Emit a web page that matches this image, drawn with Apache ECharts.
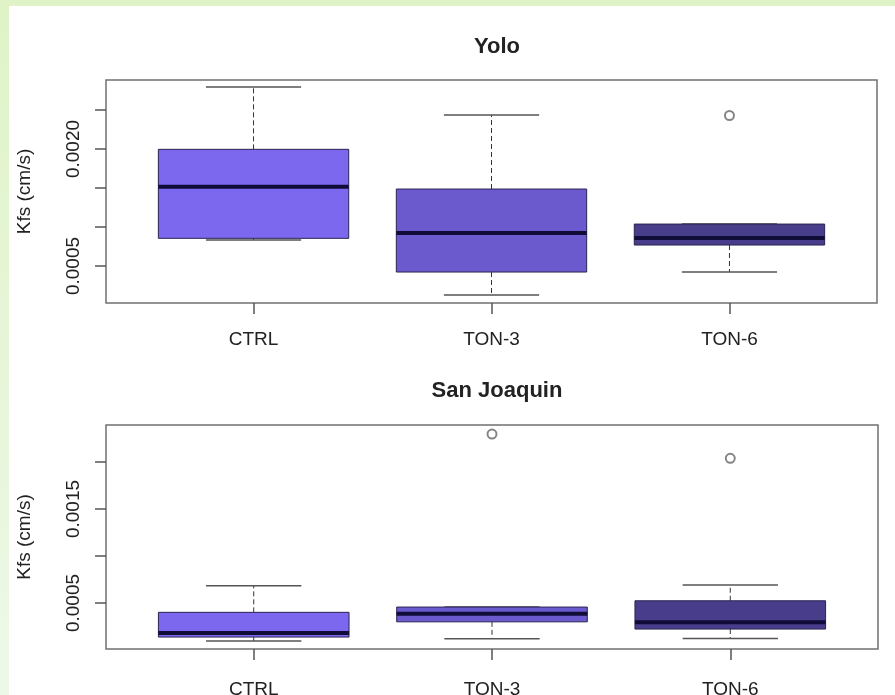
<!DOCTYPE html>
<html>
<head>
<meta charset="utf-8">
<script src="https://cdn.jsdelivr.net/npm/echarts@6/dist/echarts.min.js"></script>
<style>
html,body{margin:0;padding:0;background:#fff;}
#chart{width:895px;height:695px;}
</style>
</head>
<body>
<div id="chart"></div>
<script>
// ---- data ----
const categories = ['CTRL', 'TON-3', 'TON-6'];
// [lower whisker, Q1, median, Q3, upper whisker]
const yoloStats = [
  [0.000833, 0.000855, 0.001517, 0.001996, 0.002795],
  [0.000128, 0.000423, 0.000923, 0.001487, 0.002436],
  [0.000423, 0.000769, 0.000859, 0.001038, 0.001038]
];
const yoloOutliers = [[3, 0.00243]];
const sjStats = [
  [0.000096, 0.000138, 0.000181, 0.000401, 0.000684],
  [0.000120, 0.000300, 0.000386, 0.000457, 0.000457],
  [0.000124, 0.000223, 0.000295, 0.000524, 0.000691]
];
const sjOutliers = [[2, 0.002298], [3, 0.00204]];
const yoloTicks = [0.0005, 0.0010, 0.0015, 0.0020, 0.0025];
const yoloTickLabels = [0.0005, 0.0020];
const sjTicks = [0.0005, 0.0010, 0.0015, 0.0020];
const sjTickLabels = [0.0005, 0.0015];
const yoloRange = [0.000026, 0.002885];
const sjRange = [0.000011, 0.002394];

// ---- styles ----
const FONT = '"Liberation Sans", Arial, sans-serif';
const fills = ['#7b68ee', '#6a5acd', '#483d8b'];
const frameColor = '#707070';
const textColor = '#222222';

function boxItem(params, api) {
  const x = api.value(0);
  const lo = api.value(1), q1 = api.value(2), med = api.value(3), q3 = api.value(4), hi = api.value(5);
  const w = api.size([0.8, 0])[0];
  const pLo = api.coord([x, lo]);
  const pQ1 = api.coord([x, q1]);
  const pMed = api.coord([x, med]);
  const pQ3 = api.coord([x, q3]);
  const pHi = api.coord([x, hi]);
  const cx = pMed[0];
  const children = [];
  const dash = {stroke: '#333', lineWidth: 1, lineDash: [5, 3]};
  const cap = {stroke: '#555', lineWidth: 1.5};
  children.push({type: 'line', shape: {x1: cx, y1: pQ3[1], x2: cx, y2: pHi[1]}, style: dash});
  children.push({type: 'line', shape: {x1: cx, y1: pQ1[1], x2: cx, y2: pLo[1]}, style: dash});
  children.push({type: 'line', shape: {x1: cx - w / 4, y1: pHi[1], x2: cx + w / 4, y2: pHi[1]}, style: cap});
  children.push({type: 'line', shape: {x1: cx - w / 4, y1: pLo[1], x2: cx + w / 4, y2: pLo[1]}, style: cap});
  children.push({type: 'rect', shape: {x: cx - w / 2, y: pQ3[1], width: w, height: pQ1[1] - pQ3[1]},
    style: {fill: fills[params.dataIndex], stroke: '#2a2450', lineWidth: 1}});
  children.push({type: 'line', shape: {x1: cx - w / 2, y1: pMed[1], x2: cx + w / 2, y2: pMed[1]},
    style: {stroke: '#100c38', lineWidth: 4}});
  return {type: 'group', children: children};
}

function xAxisDef(gridIndex, margin) {
  return {
    type: 'value', gridIndex: gridIndex, min: 0.38, max: 3.62,
    splitLine: {show: false}, axisLine: {show: false},
    axisTick: {show: true, customValues: [1, 2, 3], length: 11, lineStyle: {color: '#555', width: 1.5}},
    axisLabel: {show: true, customValues: [1, 2, 3], margin: margin,
      formatter: v => categories[Math.round(v) - 1] || '',
      fontFamily: FONT, fontSize: 19, color: textColor}
  };
}
function yAxisDef(gridIndex, range, ticks, labels) {
  return {
    type: 'value', gridIndex: gridIndex, min: range[0], max: range[1],
    splitLine: {show: false}, axisLine: {show: false},
    axisTick: {show: true, customValues: ticks, length: 11, lineStyle: {color: '#555', width: 1.5}},
    axisLabel: {show: true, customValues: labels, rotate: 90, margin: 23,
      formatter: v => v.toFixed(4), fontFamily: FONT, fontSize: 19, color: textColor},
    name: 'Kfs (cm/s)', nameLocation: 'middle', nameRotate: 90, nameGap: 72,
    nameTextStyle: {fontFamily: FONT, fontSize: 19, color: textColor}
  };
}
function toData(stats) { return stats.map((s, i) => [i + 1].concat(s)); }

const chart = echarts.init(document.getElementById('chart'), null, {renderer: 'canvas'});
chart.setOption({
  backgroundColor: '#ffffff',
  animation: false,
  graphic: [
    {type: 'rect', left: 0, top: 0, shape: {width: 895, height: 6}, style: {fill: '#dff3c7'}, z: 100},
    {type: 'rect', left: 0, top: 0, shape: {width: 9, height: 695},
      style: {fill: new echarts.graphic.LinearGradient(0, 0, 0, 1, [
        {offset: 0, color: '#dff3c7'}, {offset: 1, color: '#eef8e8'}])}, z: 100}
  ],
  title: [
    {text: 'Yolo', left: 492, top: 31, textAlign: 'center',
      textStyle: {fontFamily: FONT, fontSize: 22, fontWeight: 'bold', color: textColor}},
    {text: 'San Joaquin', left: 492, top: 375, textAlign: 'center',
      textStyle: {fontFamily: FONT, fontSize: 22, fontWeight: 'bold', color: textColor}}
  ],
  grid: [
    {left: 106, top: 80, width: 771, height: 223, show: true, borderColor: frameColor, borderWidth: 1.5,
      backgroundColor: '#fff', containLabel: false, outerBoundsMode: 'none'},
    {left: 106, top: 425, width: 772, height: 224, show: true, borderColor: frameColor, borderWidth: 1.5,
      backgroundColor: '#fff', containLabel: false, outerBoundsMode: 'none'}
  ],
  xAxis: [xAxisDef(0, 27), xAxisDef(1, 31)],
  yAxis: [
    yAxisDef(0, yoloRange, yoloTicks, yoloTickLabels),
    yAxisDef(1, sjRange, sjTicks, sjTickLabels)
  ],
  series: [
    {type: 'custom', xAxisIndex: 0, yAxisIndex: 0, renderItem: boxItem,
      encode: {x: 0, y: [1, 2, 3, 4, 5]}, data: toData(yoloStats)},
    {type: 'custom', xAxisIndex: 1, yAxisIndex: 1, renderItem: boxItem,
      encode: {x: 0, y: [1, 2, 3, 4, 5]}, data: toData(sjStats)},
    {type: 'scatter', xAxisIndex: 0, yAxisIndex: 0, symbol: 'emptyCircle', symbolSize: 9,
      itemStyle: {color: '#666', borderColor: '#666', borderWidth: 1.3}, data: yoloOutliers},
    {type: 'scatter', xAxisIndex: 1, yAxisIndex: 1, symbol: 'emptyCircle', symbolSize: 9,
      itemStyle: {color: '#666', borderColor: '#666', borderWidth: 1.3}, data: sjOutliers}
  ]
});
</script>
</body>
</html>
